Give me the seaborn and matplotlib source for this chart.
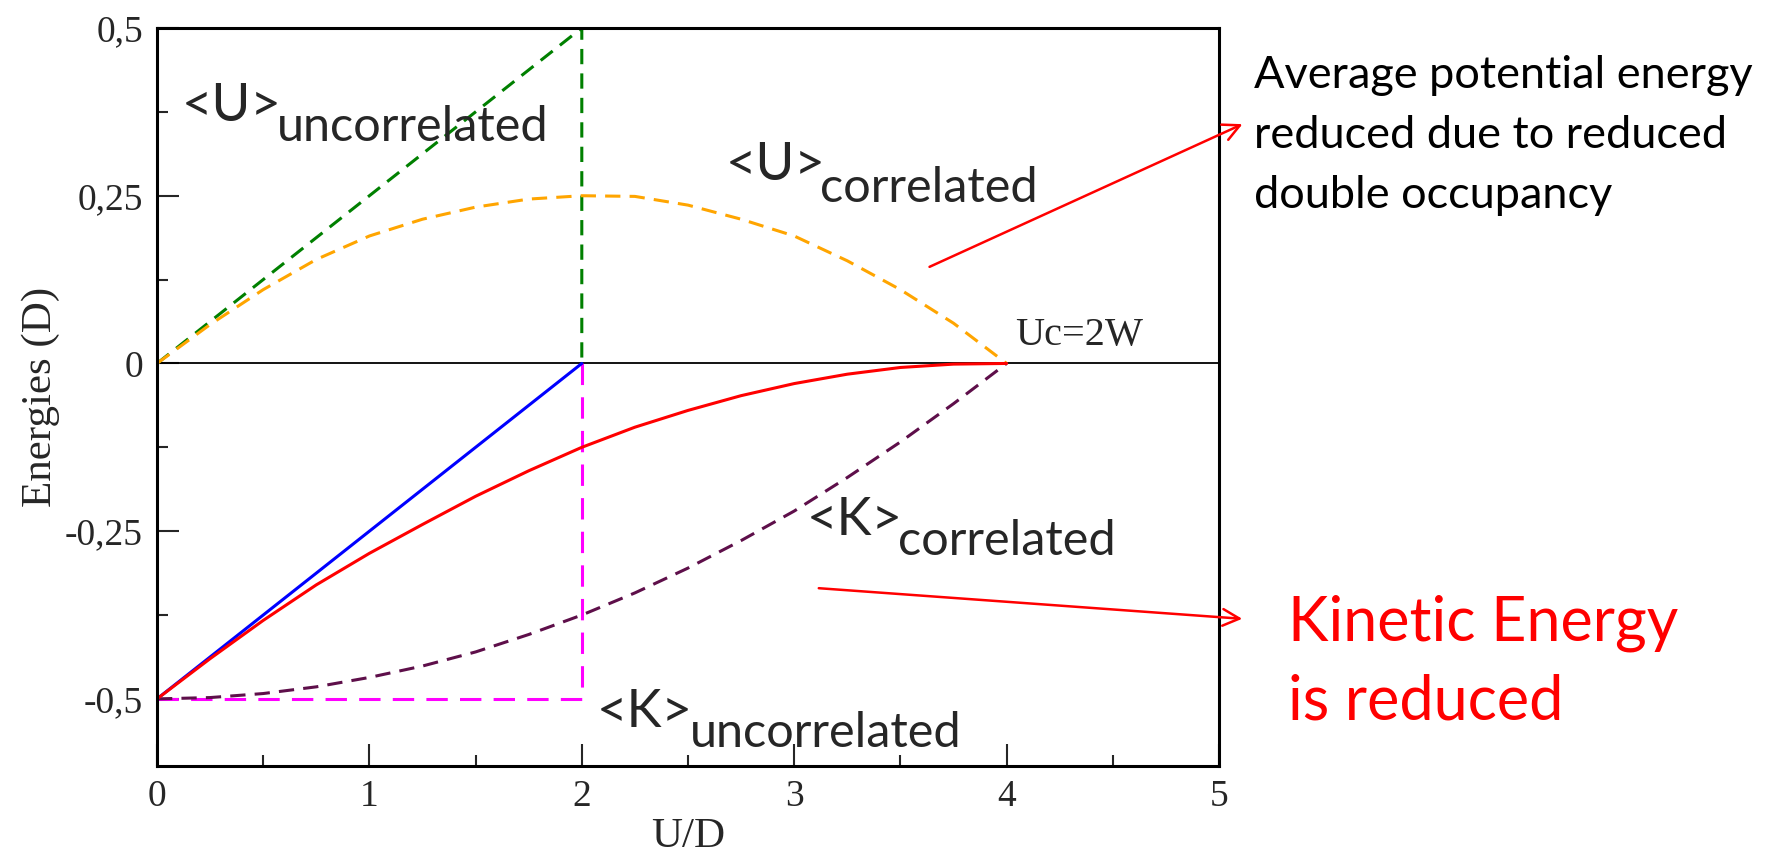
import matplotlib
matplotlib.use("Agg")
import matplotlib.pyplot as plt
import seaborn as sns
import pandas as pd
from matplotlib.ticker import MultipleLocator, FixedLocator

# values
u_grid = [0, 0.25, 0.5, 0.75, 1.0, 1.25, 1.5, 1.75, 2.0, 2.25, 2.5, 2.75, 3.0, 3.25, 3.5, 3.75, 4.0]
pot_corr = [0, 0.058, 0.11, 0.155, 0.19, 0.215, 0.233, 0.245, 0.25, 0.249, 0.236, 0.215, 0.19, 0.153, 0.11, 0.06, 0]
kin_corr = [-0.5, -0.498, -0.492, -0.482, -0.468, -0.451, -0.43, -0.404, -0.375, -0.342, -0.305, -0.264,
            -0.22, -0.17, -0.117, -0.06, 0]
tot_corr = [-0.5, -0.44, -0.383, -0.33, -0.283, -0.24, -0.198, -0.16, -0.125, -0.095, -0.07, -0.048,
            -0.03, -0.016, -0.006, -0.001, 0]

# uncorrelated (U < 2) pieces, incl. the vertical drop at U = 2
unc_x = [0, 2, 2]
pot_unc = [0, 0.5, 0]
kin_unc = [-0.5, -0.5, 0]
tot_unc_x = [0, 2]
tot_unc = [-0.5, 0]

yticks = [-0.5, -0.25, 0, 0.25, 0.5]
ytick_labels = ["-0,5", "-0,25", "0", "0,25", "0,5"]
xticks = [0, 1, 2, 3, 4, 5]

W, H = 1787, 856
sns.set_style("ticks")
fig = plt.figure(figsize=(W / 100, H / 100), dpi=100)
ax = fig.add_axes([157 / W, 1 - 766 / H, (1219 - 157) / W, (766 - 28) / H])

serif = "Liberation Serif"
sans = "Lato"

ax.axhline(0, color="black", lw=1.3, zorder=1)

df_unc = pd.DataFrame({"U": unc_x, "pot": pot_unc, "kin": kin_unc})
df_corr = pd.DataFrame({"U": u_grid, "pot": pot_corr, "kin": kin_corr, "tot": tot_corr})
df_tot = pd.DataFrame({"U": tot_unc_x, "tot": tot_unc})

dash = (0, (5, 3))
sns.lineplot(data=df_unc, x="U", y="pot", sort=False, color="#008000", lw=2.2, ls=dash, ax=ax, estimator=None)
sns.lineplot(data=df_unc, x="U", y="kin", sort=False, color="#ff00ff", lw=2.2, ls=(0, (7, 4)), ax=ax, estimator=None)
sns.lineplot(data=df_corr, x="U", y="pot", color="#ffa500", lw=2.2, ls=dash, ax=ax, estimator=None)
sns.lineplot(data=df_corr, x="U", y="kin", color="#5e0f4a", lw=2.2, ls=dash, ax=ax, estimator=None)
sns.lineplot(data=df_tot, x="U", y="tot", color="#0000ff", lw=2.2, ax=ax, estimator=None)
sns.lineplot(data=df_corr, x="U", y="tot", color="#ff0000", lw=2.2, ax=ax, estimator=None)

ax.set_xlim(0, 5)
ax.set_ylim(-0.6, 0.5)
ax.xaxis.set_major_locator(FixedLocator(xticks))
ax.xaxis.set_minor_locator(MultipleLocator(0.5))
ax.yaxis.set_major_locator(FixedLocator(yticks))
ax.yaxis.set_minor_locator(MultipleLocator(0.125))
ax.set_yticklabels(ytick_labels)
ax.tick_params(which="major", direction="in", length=16, width=1.5, labelsize=27, pad=10)
ax.tick_params(which="minor", direction="in", length=8, width=1.5)
for lab in ax.get_xticklabels() + ax.get_yticklabels():
    lab.set_family(serif)
for s in ax.spines.values():
    s.set_visible(True)
    s.set_linewidth(2.2)
    s.set_color("black")

ax.set_xlabel("U/D", family=serif, fontsize=31, labelpad=2)
ax.set_ylabel("Energies (D)", family=serif, fontsize=31, labelpad=4)

# curve labels: main symbol + subscript word
fs = 35
ax.text(0.115, 0.362, "<U>", family=sans, fontsize=fs + 3)
ax.text(0.565, 0.332, "uncorrelated", family=sans, fontsize=fs)
ax.text(2.68, 0.273, "<U>", family=sans, fontsize=fs + 3)
ax.text(3.12, 0.241, "correlated", family=sans, fontsize=fs)
ax.text(3.06, -0.255, "<K>", family=sans, fontsize=fs + 3)
ax.text(3.49, -0.286, "correlated", family=sans, fontsize=fs)
ax.text(2.07, -0.542, "<K>", family=sans, fontsize=fs + 3)
ax.text(2.51, -0.571, "uncorrelated", family=sans, fontsize=fs)
ax.text(4.04, 0.027, "Uc=2W", family=serif, fontsize=29)

# side notes
for i, line in enumerate(["Average potential energy", "reduced due to reduced", "double occupancy"]):
    fig.text(1254 / W, 1 - (88 + 60 * i) / H, line, family=sans, fontsize=32.5, color="black")
for i, line in enumerate(["Kinetic Energy", "is reduced"]):
    fig.text(1288 / W, 1 - (640 + 80 * i) / H, line, family=sans, fontsize=44, color="#ff0000")

arrow = dict(arrowstyle="->", color="#ff0000", lw=1.8, mutation_scale=30)
ax.annotate("", xy=(1245 / W, 1 - 123 / H), xytext=(927 / W, 1 - 268 / H),
            xycoords="figure fraction", textcoords="figure fraction",
            arrowprops=arrow, annotation_clip=False)
ax.annotate("", xy=(1245 / W, 1 - 619 / H), xytext=(816 / W, 1 - 588 / H),
            xycoords="figure fraction", textcoords="figure fraction",
            arrowprops=arrow, annotation_clip=False)

fig.savefig("out.png", dpi=100, facecolor="white")
